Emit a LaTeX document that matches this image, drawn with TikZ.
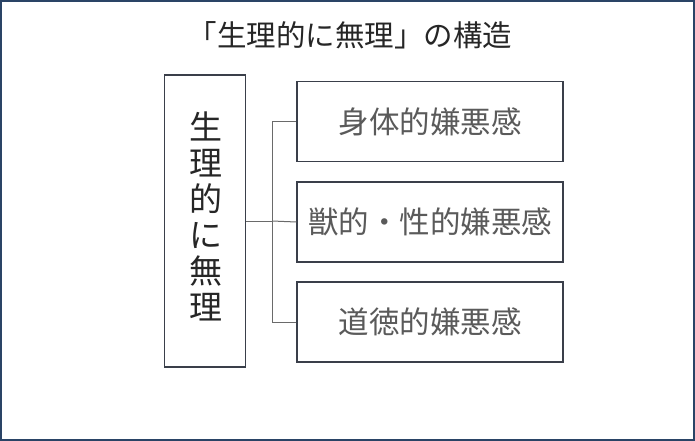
\documentclass[tikz,border=0pt]{standalone}
\usepackage{fontspec}
\newfontfamily\cjk{Noto Sans CJK JP}
\definecolor{frame}{HTML}{2A4466}
\definecolor{boxline}{HTML}{3A3F4A}
\definecolor{conn}{HTML}{6A6A6A}
\definecolor{txtgray}{HTML}{5A5A5A}
\tikzset{
  box/.style={draw=boxline, line width=1.2pt, fill=white, inner sep=0pt},
  rbox/.style={box, minimum width=266pt, minimum height=80pt, text=txtgray, font=\cjk\fontsize{30.5}{32}\selectfont},
  connector/.style={draw=conn, line width=1pt}
}
\begin{document}
\begin{tikzpicture}[x=1pt,y=-1pt]
\useasboundingbox (0,0) rectangle (695,441);
\draw[frame, line width=2pt] (1,1) rectangle (694,440);
\node[font=\cjk\fontsize{29.5}{31}\selectfont, text=black!85] (title) at (350,35) {「生理的に無理」の構造};
\node[box, minimum width=81pt, minimum height=292pt] (main) at (205,221) {};
\node[align=center, font=\cjk\fontsize{33}{36}\selectfont, text=black!85, inner sep=0pt] (maintext) at (206,216)
  {生\\理\\的\\に\\無\\理};
\node[rbox] (b1) at (430,121.5) {身体的嫌悪感};
\node[rbox] (b2) at (430,222) {獣的・性的嫌悪感};
\node[rbox] (b3) at (430,322) {道徳的嫌悪感};
\coordinate (j) at (272,221);
\draw[connector] (main.east |- j) -- (j);
\draw[connector] (j) |- (b1.west);
\draw[connector] (j) -- (b2.west);
\draw[connector] (j) |- (b3.west);
\end{tikzpicture}
\end{document}
